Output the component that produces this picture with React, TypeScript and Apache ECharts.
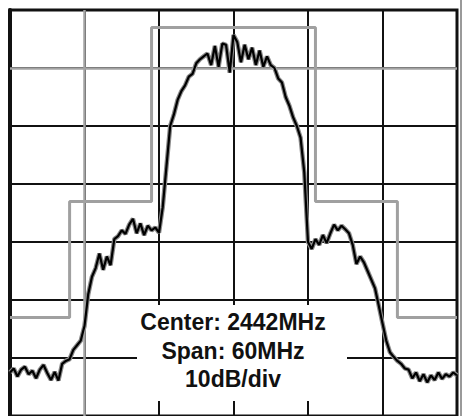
import React, { useEffect, useRef } from "react";
import * as echarts from "echarts";

// Sweep: 2412 .. 2472 MHz, one point every 0.5 MHz (121 points)
const startFreq = 2412;
const stepFreq = 0.5;

// Trace level in dB relative to the top graticule line (10 dB/div)
const traceDb = [
  -62.5, -61.8, -63.2, -62.0, -61.5, -62.8, -62.2, -63.5, -62.0, -61.2,
  -62.6, -63.8, -62.4, -63.9, -61.0, -60.5, -60.2, -58.6, -57.8, -57.0,
  -54.5, -49.0, -46.0, -44.5, -42.0, -44.8, -42.5, -44.0, -39.5, -39.0,
  -38.0, -38.6, -37.0, -36.0, -38.5, -36.8, -38.8, -37.2, -38.0, -37.5,
  -38.4, -34.0, -27.0, -20.0, -18.0, -15.5, -14.0, -13.0, -11.5, -11.0,
  -9.2, -8.5, -8.0, -7.5, -9.5, -6.2, -9.8, -5.8, -6.0, -10.8,
  -4.3, -5.5, -9.0, -6.0, -8.5, -6.5, -9.5, -7.0, -9.8, -8.0,
  -9.5, -10.0, -11.8, -12.5, -15.0, -16.5, -18.5, -20.0, -22.0, -28.0,
  -40.0, -41.2, -39.5, -40.5, -38.8, -40.2, -38.5, -37.0, -38.0, -37.2,
  -37.8, -38.5, -40.5, -43.8, -42.5, -43.5, -45.0, -46.5, -48.0, -51.0,
  -54.0, -57.0, -59.0, -59.8, -60.5, -61.0, -61.8, -62.0, -63.5, -62.5,
  -64.0, -62.8, -64.2, -63.0, -63.8, -62.5, -63.6, -62.8, -63.2, -62.5,
  -63.0,
];

// Spectral mask (step outline)
const maskFreq = [2412, 2420, 2420, 2431, 2431, 2453, 2453, 2464, 2464, 2472];
const maskDb = [-53, -53, -33, -33, -3, -3, -33, -33, -53, -53];

// Graticule lines drawn in light grey instead of black
const greyGridFreq = [2422];
const greyGridDb = [-10];

const annotationLines = ["Center: 2442MHz", "Span: 60MHz", "10dB/div"];

const xMin = 2412;
const xMax = 2472;
const yMin = -70;
const yMax = 0;

export default function App() {
  const ref = useRef<HTMLDivElement>(null);

  useEffect(() => {
    if (!ref.current) return;
    const chart = echarts.init(ref.current, null, { renderer: "svg" });
    const trace = traceDb.map((v, i) => [startFreq + i * stepFreq, v]);
    const mask = maskFreq.map((f, i) => [f, maskDb[i]]);

    chart.setOption({
      animation: false,
      backgroundColor: "#ffffff",
      grid: {
        left: 10,
        top: 10,
        width: 447,
        height: 406,
        containLabel: false,
        show: true,
        borderColor: "#111",
        borderWidth: 3,
        backgroundColor: "transparent",
      },
      xAxis: {
        type: "value",
        min: xMin,
        max: xMax,
        interval: 10,
        axisLine: { show: false },
        axisTick: { show: false },
        axisLabel: { show: false },
        splitLine: { show: true, lineStyle: { width: 2, color: "#111" } },
      },
      yAxis: {
        type: "value",
        min: yMin,
        max: yMax,
        interval: 10,
        axisLine: { show: true, lineStyle: { color: "#111", width: 4 } },
        axisTick: { show: false },
        axisLabel: { show: false },
        splitLine: { show: true, lineStyle: { width: 2, color: "#111" } },
      },
      series: [
        {
          type: "line",
          data: mask,
          symbol: "none",
          lineStyle: { color: "#a0a0a0", width: 3 },
          z: 3,
          markLine: {
            silent: true,
            symbol: "none",
            label: { show: false },
            lineStyle: { color: "#a3a3a3", width: 2.5, type: "solid" },
            data: [
              ...greyGridFreq.map((f) => ({ xAxis: f })),
              ...greyGridDb.map((d) => ({ yAxis: d })),
            ],
          },
        },
        {
          type: "line",
          data: trace,
          symbol: "none",
          lineStyle: { color: "#8a8a8a", width: 4.5 },
          z: 4,
        },
        {
          type: "line",
          data: trace,
          symbol: "none",
          lineStyle: { color: "#000", width: 2.2 },
          z: 5,
        },
      ],
      graphic: [
        {
          type: "rect",
          z: 100,
          shape: { x: 137, y: 305, width: 210, height: 96 },
          style: { fill: "#fff" },
        },
        ...annotationLines.map((t, i) => ({
          type: "text",
          z: 101,
          x: 233,
          y: 322 + i * 28.5,
          style: {
            text: t,
            fill: "#111",
            font: "bold 23px 'Liberation Sans', Arial, sans-serif",
            textAlign: "center",
            textVerticalAlign: "middle",
          },
        })),
        {
          type: "line",
          z: 100,
          shape: { x1: 461, y1: 0, x2: 461, y2: 416 },
          style: { stroke: "#9a9a9a", lineWidth: 2 },
        },
      ],
    });
    return () => chart.dispose();
  }, []);

  return (
    <div
      ref={ref}
      style={{ position: "absolute", left: 0, top: 0, width: 463, height: 416, background: "#fff" }}
    />
  );
}
